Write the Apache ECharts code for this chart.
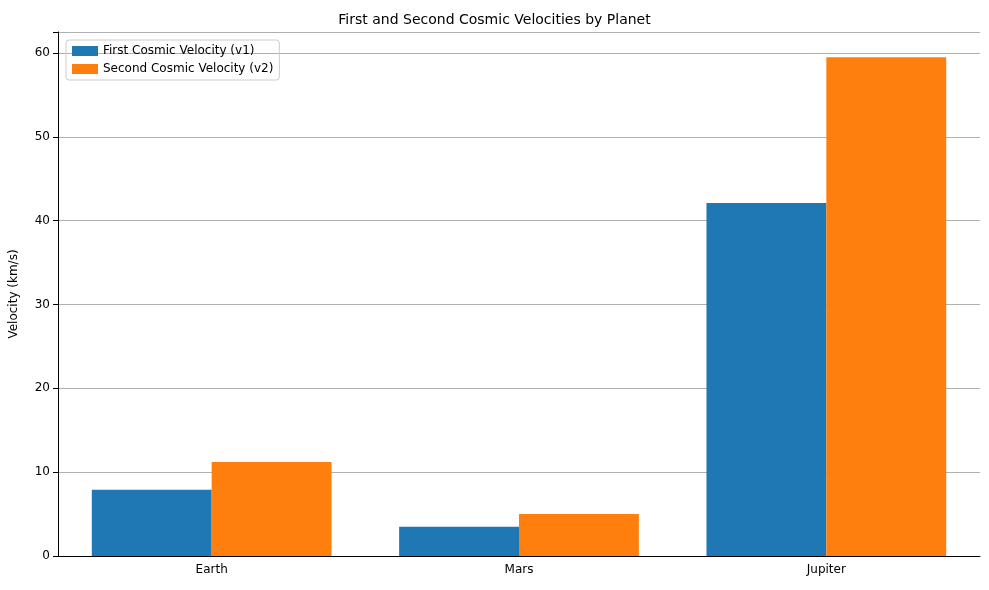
<!DOCTYPE html>
<html><head><meta charset="utf-8">
<script src="https://cdn.jsdelivr.net/npm/echarts@6/dist/echarts.min.js"></script>
<style>html,body{margin:0;padding:0;background:#fff}#c{width:989px;height:590px}</style>
</head><body><div id="c"></div>
<script>
const categories = ["Earth", "Mars", "Jupiter"];
const v1 = [7.9, 3.5, 42.1];
const v2 = [11.2, 5.0, 59.5];
const yTicks = [0, 10, 20, 30, 40, 50, 60];

const chart = echarts.init(document.getElementById('c'));
const font = 'DejaVu Sans';
chart.setOption({
  animation: false,
  textStyle: {fontFamily: font},
  title: {text: 'First and Second Cosmic Velocities by Planet', left: 'center', top: 8,
    textStyle: {fontFamily: font, fontSize: 14, fontWeight: 'normal', color: '#000'}},
  legend: {left: 66, top: 40, orient: 'vertical', itemWidth: 26, itemHeight: 10, itemGap: 6,
    padding: [5, 6, 5, 6], borderColor: '#ccc', borderWidth: 1, borderRadius: 3,
    textStyle: {fontFamily: font, fontSize: 12, color: '#000'}, icon: 'rect'},
  grid: {left: 56, right: 9, top: 32, bottom: 34},
  xAxis: {type: 'category', data: categories,
    axisLine: {lineStyle: {color: '#000'}}, axisTick: {alignWithLabel: true, lineStyle: {color: '#000'}},
    axisLabel: {color: '#000', fontSize: 12, fontFamily: font}},
  yAxis: {type: 'value', min: 0, max: 62.5, interval: 10,
    name: 'Velocity (km/s)', nameLocation: 'middle', nameGap: 38,
    nameTextStyle: {fontFamily: font, fontSize: 12, color: '#000'},
    axisLine: {show: true, lineStyle: {color: '#000'}}, axisTick: {show: true, lineStyle: {color: '#000'}},
    axisLabel: {color: '#000', fontSize: 12, fontFamily: font,
      formatter: v => yTicks.includes(v) ? String(v) : ''},
    splitLine: {lineStyle: {color: '#b0b0b0'}}},
  series: [
    {name: 'First Cosmic Velocity (v1)', type: 'bar', data: v1, itemStyle: {color: '#1f77b4'},
      barGap: '0%', barCategoryGap: '22%'},
    {name: 'Second Cosmic Velocity (v2)', type: 'bar', data: v2, itemStyle: {color: '#ff7f0e'},
      barGap: '0%', barCategoryGap: '22%'}
  ]
});
</script></body></html>
